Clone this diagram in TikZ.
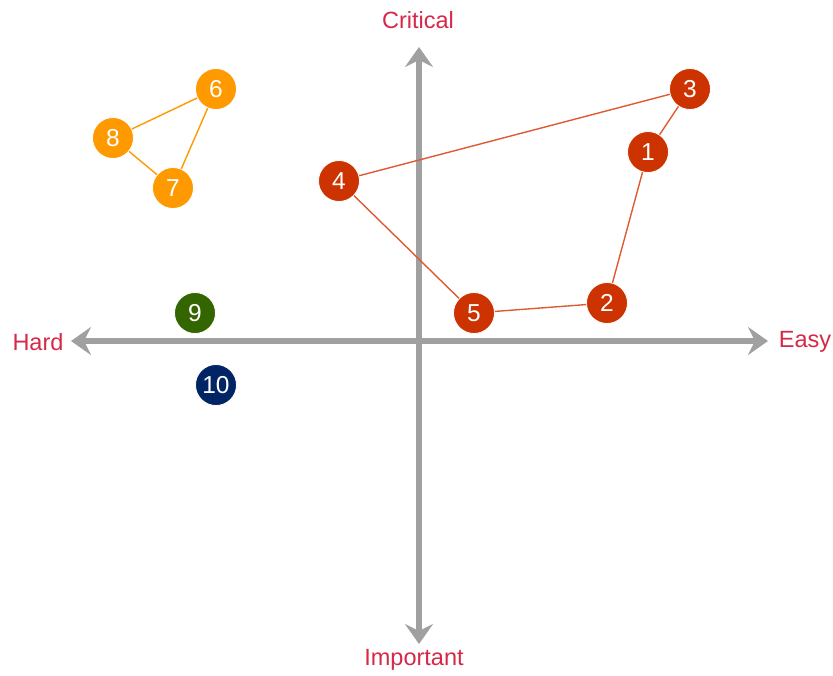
\documentclass[tikz,border=0pt]{standalone}
\usepackage{fontspec}
\setmainfont{Liberation Sans}
\usetikzlibrary{arrows.meta}
\definecolor{axisgray}{RGB}{160,160,160}
\definecolor{labelred}{RGB}{214,40,72}
\definecolor{rust}{RGB}{204,51,0}
\definecolor{rustline}{RGB}{222,90,50}
\definecolor{amber}{RGB}{255,153,0}
\definecolor{olive}{RGB}{51,102,0}
\definecolor{navy}{RGB}{0,36,100}
\tikzset{
  axis/.style={draw=axisgray, line width=6pt,
    -{Stealth[length=20pt, width=28pt, inset=7pt]}},
  axislabel/.style={text=labelred, font=\fontsize{23.5}{26}\selectfont, inner sep=0pt},
  item/.style={circle, minimum size=41pt, inner sep=0pt, draw=white, line width=0.8pt,
    text=white, font=\fontsize{24.5}{26}\selectfont},
  hot/.style={item, fill=rust},
  warm/.style={item, fill=amber},
  hotlink/.style={draw=rustline, line width=1.4pt},
  warmlink/.style={draw=amber, line width=1.4pt}
}
\begin{document}
\begin{tikzpicture}[x=1pt, y=-1pt]
  \useasboundingbox (0,0) rectangle (833,675);

  % axes
  \coordinate (o) at (419,341);
  \coordinate (east) at (768,341);
  \coordinate (west) at (71,341);
  \coordinate (north) at (419,47);
  \coordinate (south) at (419,644);
  \draw[axis] (o) -- (east);
  \draw[axis] (o) -- (west);
  \draw[axis] (o) -- (north);
  \draw[axis] (o) -- (south);

  \node[axislabel] (critical) at (418,20) {Critical};
  \node[axislabel] (important) at (414,660) {Important};
  \node[axislabel] (hard) at (38,342) {Hard};
  \node[axislabel] (easy) at (805,342) {Easy};

  % items
  \node[hot] (n1) at (648,152) {1};
  \node[hot] (n2) at (607,303) {2};
  \node[hot] (n3) at (690,89) {3};
  \node[hot] (n4) at (339,181) {4};
  \node[hot] (n5) at (474,313) {5};
  \node[warm] (n6) at (216,89) {6};
  \node[warm] (n7) at (173,188) {7};
  \node[warm] (n8) at (113,138) {8};
  \node[item, fill=olive] (n9) at (195,313) {9};
  \node[item, fill=navy] (n10) at (216,385) {10};

  % links
  \draw[hotlink] (n4) -- (n3) -- (n1) -- (n2) -- (n5) -- (n4);
  \draw[warmlink] (n6) -- (n8) -- (n7) -- (n6);
\end{tikzpicture}
\end{document}
